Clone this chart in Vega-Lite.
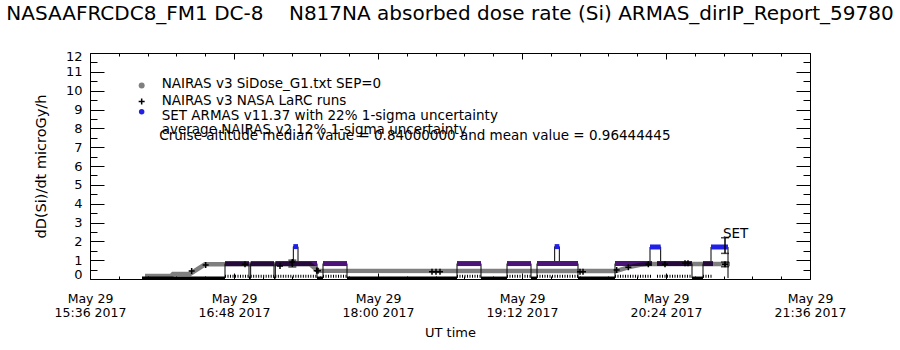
{
  "$schema": "https://vega.github.io/schema/vega-lite/v6.json",
  "width": 720,
  "height": 226,
  "autosize": {"type": "none"},
  "padding": {"left": 90, "top": 53, "right": 90, "bottom": 71},
  "background": "white",
  "title": {
    "text": "NASAAFRCDC8_FM1 DC-8\u00a0\u00a0\u00a0 N817NA absorbed dose rate (Si) ARMAS_dirIP_Report_59780",
    "font": "DejaVu Sans",
    "fontSize": 20,
    "fontWeight": "normal",
    "color": "black",
    "anchor": "middle",
    "frame": "group",
    "baseline": "alphabetic",
    "offset": 10
  },
  "config": {
    "view": {"stroke": null},
    "axis": {"grid": false, "domainColor": "black", "domainWidth": 1, "tickColor": "black", "tickWidth": 1, "labelColor": "black", "titleColor": "black"}
  },
  "datasets": {
    "nairas": [
      {"t": "2017-05-29T16:03:30Z", "dose": 0.16},
      {"t": "2017-05-29T16:16:30Z", "dose": 0.16},
      {"t": "2017-05-29T16:17:30Z", "dose": 0.27},
      {"t": "2017-05-29T16:26:00Z", "dose": 0.27},
      {"t": "2017-05-29T16:33:30Z", "dose": 0.78},
      {"t": "2017-05-29T17:26:00Z", "dose": 0.78},
      {"t": "2017-05-29T17:30:00Z", "dose": 0.44},
      {"t": "2017-05-29T19:59:00Z", "dose": 0.42},
      {"t": "2017-05-29T20:05:00Z", "dose": 0.62},
      {"t": "2017-05-29T20:11:00Z", "dose": 0.75},
      {"t": "2017-05-29T20:16:00Z", "dose": 0.80},
      {"t": "2017-05-29T20:56:00Z", "dose": 0.80}
    ],
    "larc": [
      {"t": "2017-05-29T16:26:50Z", "dose": 0.42},
      {"t": "2017-05-29T16:33:50Z", "dose": 0.74},
      {"t": "2017-05-29T16:53:30Z", "dose": 0.78},
      {"t": "2017-05-29T17:11:00Z", "dose": 0.69},
      {"t": "2017-05-29T17:17:10Z", "dose": 0.90},
      {"t": "2017-05-29T17:29:20Z", "dose": 0.44},
      {"t": "2017-05-29T17:30:00Z", "dose": 0.44},
      {"t": "2017-05-29T18:27:00Z", "dose": 0.39},
      {"t": "2017-05-29T18:29:00Z", "dose": 0.39},
      {"t": "2017-05-29T18:31:00Z", "dose": 0.39},
      {"t": "2017-05-29T19:41:00Z", "dose": 0.39},
      {"t": "2017-05-29T19:42:30Z", "dose": 0.39},
      {"t": "2017-05-29T19:59:20Z", "dose": 0.48},
      {"t": "2017-05-29T20:05:10Z", "dose": 0.62},
      {"t": "2017-05-29T20:15:10Z", "dose": 0.78},
      {"t": "2017-05-29T20:23:30Z", "dose": 0.78},
      {"t": "2017-05-29T20:33:30Z", "dose": 0.83},
      {"t": "2017-05-29T20:35:00Z", "dose": 0.83},
      {"t": "2017-05-29T20:53:30Z", "dose": 0.78}
    ],
    "armas": [
      {"t": "2017-05-29T16:02:00Z", "dose": 0.05},
      {"t": "2017-05-29T16:43:30Z", "dose": 0.82},
      {"t": "2017-05-29T16:55:30Z", "dose": 0.05},
      {"t": "2017-05-29T16:56:20Z", "dose": 0.82},
      {"t": "2017-05-29T17:08:00Z", "dose": 0.05},
      {"t": "2017-05-29T17:08:40Z", "dose": 0.82},
      {"t": "2017-05-29T17:17:40Z", "dose": 1.72},
      {"t": "2017-05-29T17:20:00Z", "dose": 0.82},
      {"t": "2017-05-29T17:29:30Z", "dose": 0.05},
      {"t": "2017-05-29T17:32:30Z", "dose": 0.82},
      {"t": "2017-05-29T17:44:30Z", "dose": 0.05},
      {"t": "2017-05-29T18:39:30Z", "dose": 0.82},
      {"t": "2017-05-29T18:51:30Z", "dose": 0.05},
      {"t": "2017-05-29T19:04:30Z", "dose": 0.82},
      {"t": "2017-05-29T19:16:30Z", "dose": 0.05},
      {"t": "2017-05-29T19:19:30Z", "dose": 0.82},
      {"t": "2017-05-29T19:28:20Z", "dose": 1.72},
      {"t": "2017-05-29T19:30:40Z", "dose": 0.82},
      {"t": "2017-05-29T19:40:00Z", "dose": 0.05},
      {"t": "2017-05-29T19:58:30Z", "dose": 0.82},
      {"t": "2017-05-29T20:16:00Z", "dose": 1.70},
      {"t": "2017-05-29T20:21:20Z", "dose": 0.82},
      {"t": "2017-05-29T20:37:00Z", "dose": 0.05},
      {"t": "2017-05-29T20:42:30Z", "dose": 0.82},
      {"t": "2017-05-29T20:46:30Z", "dose": 1.70},
      {"t": "2017-05-29T20:55:00Z", "dose": 0.05}
    ],
    "runs": [
      {"t": "2017-05-29T16:02:00Z", "t2": "2017-05-29T16:43:30Z", "dose": 0.05},
      {"t": "2017-05-29T16:43:30Z", "t2": "2017-05-29T16:55:30Z", "dose": 0.82},
      {"t": "2017-05-29T16:55:30Z", "t2": "2017-05-29T16:56:20Z", "dose": 0.05},
      {"t": "2017-05-29T16:56:20Z", "t2": "2017-05-29T17:08:00Z", "dose": 0.82},
      {"t": "2017-05-29T17:08:00Z", "t2": "2017-05-29T17:08:40Z", "dose": 0.05},
      {"t": "2017-05-29T17:08:40Z", "t2": "2017-05-29T17:29:30Z", "dose": 0.82},
      {"t": "2017-05-29T17:17:40Z", "t2": "2017-05-29T17:20:00Z", "dose": 1.72},
      {"t": "2017-05-29T17:29:30Z", "t2": "2017-05-29T17:32:30Z", "dose": 0.05},
      {"t": "2017-05-29T17:32:30Z", "t2": "2017-05-29T17:44:30Z", "dose": 0.82},
      {"t": "2017-05-29T17:44:30Z", "t2": "2017-05-29T18:39:30Z", "dose": 0.05},
      {"t": "2017-05-29T18:39:30Z", "t2": "2017-05-29T18:51:30Z", "dose": 0.82},
      {"t": "2017-05-29T18:51:30Z", "t2": "2017-05-29T19:04:30Z", "dose": 0.05},
      {"t": "2017-05-29T19:04:30Z", "t2": "2017-05-29T19:16:30Z", "dose": 0.82},
      {"t": "2017-05-29T19:16:30Z", "t2": "2017-05-29T19:19:30Z", "dose": 0.05},
      {"t": "2017-05-29T19:19:30Z", "t2": "2017-05-29T19:40:00Z", "dose": 0.82},
      {"t": "2017-05-29T19:28:20Z", "t2": "2017-05-29T19:30:40Z", "dose": 1.72},
      {"t": "2017-05-29T19:40:00Z", "t2": "2017-05-29T19:58:30Z", "dose": 0.05},
      {"t": "2017-05-29T19:58:30Z", "t2": "2017-05-29T20:17:00Z", "dose": 0.82},
      {"t": "2017-05-29T20:16:00Z", "t2": "2017-05-29T20:21:20Z", "dose": 1.70},
      {"t": "2017-05-29T20:19:30Z", "t2": "2017-05-29T20:37:00Z", "dose": 0.82},
      {"t": "2017-05-29T20:37:00Z", "t2": "2017-05-29T20:42:30Z", "dose": 0.05},
      {"t": "2017-05-29T20:42:30Z", "t2": "2017-05-29T20:47:30Z", "dose": 0.82},
      {"t": "2017-05-29T20:46:30Z", "t2": "2017-05-29T20:55:00Z", "dose": 1.70}
    ],
    "errbars": [
      {"t": "2017-05-29T17:17:10Z", "lo": 0.64, "hi": 1.0},
      {"t": "2017-05-29T20:53:30Z", "lo": 1.36, "hi": 2.19},
      {"t": "2017-05-29T20:53:30Z", "lo": 0.65, "hi": 0.90}
    ],
    "keys": [
      {"t": "2017-05-29T16:01:50Z", "dose": 10.27, "series": "sidose"},
      {"t": "2017-05-29T16:01:50Z", "dose": 9.42, "series": "larc"},
      {"t": "2017-05-29T16:01:50Z", "dose": 8.88, "series": "set"}
    ],
    "notes": [
      {"t": "2017-05-29T16:11:50Z", "dose": 10.13, "text": "NAIRAS v3 SiDose_G1.txt SEP=0"},
      {"t": "2017-05-29T16:11:50Z", "dose": 9.24, "text": "NAIRAS v3 NASA LaRC runs"},
      {"t": "2017-05-29T16:11:50Z", "dose": 8.44, "text": "SET ARMAS v11.37 with 22% 1-sigma uncertainty"},
      {"t": "2017-05-29T16:11:50Z", "dose": 7.72, "text": "average NAIRAS v2 12% 1-sigma uncertainty"},
      {"t": "2017-05-29T16:10:40Z", "dose": 7.40, "text": "Cruise altitude median value = 0.84000000 and mean value = 0.96444445"},
      {"t": "2017-05-29T20:52:30Z", "dose": 2.16, "text": "SET"}
    ]
  },
  "layer": [
    {
      "encoding": {
        "x": {
          "field": "t", "type": "temporal",
          "scale": {"type": "utc", "domain": [1496072160000, 1496093760000], "nice": false},
          "axis": {
            "orient": "bottom",
            "values": [1496072160000, 1496073024000, 1496073888000, 1496074752000, 1496075616000, 1496076480000, 1496077344000, 1496078208000, 1496079072000, 1496079936000, 1496080800000, 1496081664000, 1496082528000, 1496083392000, 1496084256000, 1496085120000, 1496085984000, 1496086848000, 1496087712000, 1496088576000, 1496089440000, 1496090304000, 1496091168000, 1496092032000, 1496092896000, 1496093760000],
            "labelExpr": "(datum.value - 1496072160000) % 4320000 === 0 ? [utcFormat(datum.value, '%b %d'), utcFormat(datum.value, '%H:%M %Y')] : ''",
            "tickSize": {"condition": {"test": "(datum.value - 1496072160000) % 4320000 === 0", "value": -6}, "value": -3},
            "labelPadding": 19,
            "labelFlush": false,
            "labelOverlap": false,
            "labelFont": "DejaVu Sans",
            "labelFontSize": 12.5,
            "labelLineHeight": 14,
            "labelBaseline": "top",
            "labelAlign": "center",
            "title": "UT time",
            "titleFont": "DejaVu Sans",
            "titleFontSize": 13,
            "titleFontWeight": "normal",
            "titlePadding": 8
          }
        },
        "y": {
          "field": "dose", "type": "quantitative",
          "scale": {"domain": [0, 12], "nice": false, "zero": false},
          "axis": {
            "orient": "left",
            "values": [0, 0.5, 1, 1.5, 2, 2.5, 3, 3.5, 4, 4.5, 5, 5.5, 6, 6.5, 7, 7.5, 8, 8.5, 9, 9.5, 10, 10.5, 11, 11.5, 12],
            "labelExpr": "datum.value % 1 === 0 ? format(datum.value, 'd') : ''",
            "tickSize": {"condition": {"test": "datum.value % 1 === 0", "value": -14}, "value": -7},
            "labelOffset": {"condition": [{"test": "datum.value === 0", "value": -5}, {"test": "datum.value === 12", "value": 3}], "value": 0},
            "labelPadding": 22,
            "labelOverlap": false,
            "labelFlush": false,
            "labelFont": "DejaVu Sans",
            "labelFontSize": 13,
            "title": "dD(Si)/dt microGy/h",
            "titleFont": "DejaVu Sans",
            "titleFontSize": 14.5,
            "titleFontWeight": "normal",
            "titlePadding": 17
          }
        }
      },
      "layer": [
        {
          "data": {"name": "runs"},
          "transform": [{"filter": "datum.dose < 0.3"}],
          "mark": {"type": "rule", "strokeWidth": 3, "color": "black"},
          "encoding": {"x2": {"field": "t2"}}
        },
        {
          "data": {"name": "runs"},
          "transform": [{"filter": "datum.dose >= 0.3 && datum.dose < 1.2"}],
          "mark": {"type": "rule", "strokeWidth": 3, "color": "black", "strokeDash": [1, 1.5]},
          "encoding": {"x2": {"field": "t2"}, "y": {"datum": 0.15, "type": "quantitative"}}
        },
        {
          "data": {"name": "armas"},
          "mark": {"type": "line", "interpolate": "step-after", "color": "black", "strokeWidth": 1}
        },
        {
          "data": {"name": "runs"},
          "transform": [{"filter": "datum.dose >= 0.3"}],
          "mark": {"type": "rule", "strokeWidth": 5, "strokeCap": "butt"},
          "encoding": {
            "x2": {"field": "t2"},
            "color": {"field": "dose", "type": "quantitative", "scale": {"type": "threshold", "domain": [1.2], "range": ["#4c1478", "#2020e8"]}, "legend": null}
          }
        },
        {
          "data": {"name": "nairas"},
          "mark": {"type": "line", "color": "black", "opacity": 0.5, "strokeWidth": 4.5}
        },
        {
          "data": {"name": "larc"},
          "mark": {"type": "point", "shape": "M-1,0L1,0M0,-1L0,1", "filled": false, "color": "black", "strokeWidth": 1.5, "size": 36, "opacity": 1}
        },
        {
          "data": {"name": "errbars"},
          "mark": {"type": "rule", "color": "black", "strokeWidth": 1.5},
          "encoding": {"y": {"field": "lo", "type": "quantitative"}, "y2": {"field": "hi"}}
        },
        {
          "data": {"name": "errbars"},
          "mark": {"type": "tick", "orient": "horizontal", "size": 8, "thickness": 1.5, "color": "black"},
          "encoding": {"y": {"field": "lo", "type": "quantitative"}}
        },
        {
          "data": {"name": "errbars"},
          "mark": {"type": "tick", "orient": "horizontal", "size": 8, "thickness": 1.5, "color": "black"},
          "encoding": {"y": {"field": "hi", "type": "quantitative"}}
        },
        {
          "data": {"name": "keys"},
          "transform": [{"filter": "datum.series === 'sidose'"}],
          "mark": {"type": "point", "shape": "circle", "filled": true, "color": "black", "opacity": 0.5, "size": 36}
        },
        {
          "data": {"name": "keys"},
          "transform": [{"filter": "datum.series === 'larc'"}],
          "mark": {"type": "point", "shape": "M-1,0L1,0M0,-1L0,1", "filled": false, "color": "black", "strokeWidth": 1.5, "size": 36, "opacity": 1}
        },
        {
          "data": {"name": "keys"},
          "transform": [{"filter": "datum.series === 'set'"}],
          "mark": {"type": "point", "shape": "circle", "filled": true, "color": "#2020e8", "opacity": 1, "size": 30}
        }
      ]
    },
    {
      "data": {"name": "notes"},
      "mark": {"type": "text", "align": "left", "baseline": "alphabetic", "font": "DejaVu Sans", "fontSize": 13.5, "color": "black"},
      "encoding": {
        "x": {
          "field": "t", "type": "temporal",
          "scale": {"type": "utc", "domain": [1496072160000, 1496093760000], "nice": false},
          "axis": {
            "orient": "top",
            "values": [1496072160000, 1496073024000, 1496073888000, 1496074752000, 1496075616000, 1496076480000, 1496077344000, 1496078208000, 1496079072000, 1496079936000, 1496080800000, 1496081664000, 1496082528000, 1496083392000, 1496084256000, 1496085120000, 1496085984000, 1496086848000, 1496087712000, 1496088576000, 1496089440000, 1496090304000, 1496091168000, 1496092032000, 1496092896000, 1496093760000],
            "tickSize": {"condition": {"test": "(datum.value - 1496072160000) % 4320000 === 0", "value": -6}, "value": -3},
            "labels": false,
            "title": null
          }
        },
        "y": {
          "field": "dose", "type": "quantitative",
          "scale": {"domain": [0, 12], "nice": false, "zero": false},
          "axis": {
            "orient": "right",
            "values": [0, 0.5, 1, 1.5, 2, 2.5, 3, 3.5, 4, 4.5, 5, 5.5, 6, 6.5, 7, 7.5, 8, 8.5, 9, 9.5, 10, 10.5, 11, 11.5, 12],
            "tickSize": {"condition": {"test": "datum.value % 1 === 0", "value": -14}, "value": -7},
            "labels": false,
            "title": null
          }
        },
        "text": {"field": "text"}
      }
    }
  ],
  "resolve": {"axis": {"x": "independent", "y": "independent"}}
}
